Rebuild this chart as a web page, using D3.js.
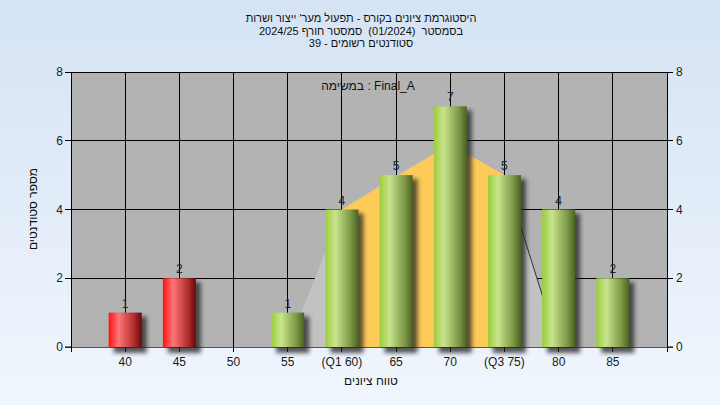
<!DOCTYPE html>
<html><head><meta charset="utf-8">
<script src="https://cdn.jsdelivr.net/npm/d3@7/dist/d3.min.js"></script>
<style>body{margin:0;padding:0;overflow:hidden}svg{display:block}text{white-space:pre}</style>
</head><body>
<script>
const categories = [40,45,50,55,60,65,70,75,80,85];
const tickLabels = ["40","45","50","55","(Q1 60)","65","70","(Q3 75)","80","85"];
const counts = [1,2,0,1,4,5,7,5,4,2];
const failing = [true,true,true,false,false,false,false,false,false,false];
const curveArea = [[55,0],[60,4],[65,5],[70,5.9],[75,5],[80,0]];
const iqrArea = [[60,0],[60,4],[70,5.9],[75,5],[75,0]];
const yTicks = [0,2,4,6,8];
const titleLines = ["היסטוגרמת ציונים בקורס - תפעול מער' ייצור ושרות","בסמסטר  (01/2024)  סמסטר חורף 2024/25","סטודנטים רשומים - 39"];
const taskLabel = "במשימה : Final_A";
const xTitle = "טווח ציונים";
const yTitle = "מספר סטודנטים";

const W=720,H=405;
const svg=d3.select("body").append("svg").attr("width",W).attr("height",H);
const defs=svg.append("defs");
const bg=defs.append("linearGradient").attr("id","bg").attr("x1",0).attr("y1",0).attr("x2",0).attr("y2",1);
bg.append("stop").attr("offset","0%").attr("stop-color","#d5e3f4");
bg.append("stop").attr("offset","100%").attr("stop-color","#f0f6fd");
function cyl(id,c0,c1,c2,c3){
  const g=defs.append("linearGradient").attr("id",id).attr("x1",0).attr("y1",0).attr("x2",1).attr("y2",0);
  g.append("stop").attr("offset","0%").attr("stop-color",c0);
  g.append("stop").attr("offset","30%").attr("stop-color",c1);
  g.append("stop").attr("offset","75%").attr("stop-color",c2);
  g.append("stop").attr("offset","100%").attr("stop-color",c3);
}
cyl("red","#ff1010","#ff7575","#b23030","#6a0808");
cyl("green","#9ccc3c","#c8e48c","#7f9a48","#4a6222");
const f=defs.append("filter").attr("id","sh").attr("x","-50%").attr("y","-50%").attr("width","200%").attr("height","200%");
f.append("feGaussianBlur").attr("stdDeviation",2.2);

svg.append("rect").attr("width",W).attr("height",H).attr("fill","url(#bg)");

const x=d3.scaleLinear().domain([35,90]).range([71,667]);
const y=d3.scaleLinear().domain([0,8]).range([347,72]);

svg.append("rect").attr("x",x(35)).attr("y",y(8)).attr("width",x(90)-x(35)).attr("height",y(0)-y(8)).attr("fill","#b3b3b3");

const gridX=[35].concat(categories).concat([90]);
svg.append("g").selectAll("line").data(gridX).join("line")
  .attr("x1",d=>x(d)).attr("x2",d=>x(d)).attr("y1",y(8)).attr("y2",y(0)+5)
  .attr("stroke","#000").attr("stroke-width",1).attr("shape-rendering","crispEdges");
svg.append("g").selectAll("line").data(yTicks.filter(d=>d>0)).join("line")
  .attr("x1",x(35)-6).attr("x2",x(90)+6).attr("y1",d=>y(d)).attr("y2",d=>y(d))
  .attr("stroke","#000").attr("stroke-width",1).attr("shape-rendering","crispEdges");

const line=d3.line().x(d=>x(d[0])).y(d=>y(d[1]));
svg.append("path").attr("d",line(curveArea)+"Z").attr("fill","#c2c2c2");
svg.append("path").attr("d",line(curveArea.slice(-2))).attr("fill","none").attr("stroke","#333").attr("stroke-width",1);
svg.append("path").attr("d",line(iqrArea)+"Z").attr("fill","#fecb58");

svg.append("line").attr("x1",x(35)-6).attr("x2",x(90)+6).attr("y1",y(0)).attr("y2",y(0)).attr("stroke","#555").attr("shape-rendering","crispEdges");
svg.append("g").selectAll("line").data(gridX).join("line")
  .attr("x1",d=>x(d)).attr("x2",d=>x(d)).attr("y1",y(0)).attr("y2",y(0)+5)
  .attr("stroke","#000").attr("shape-rendering","crispEdges");

const bw=33;
const bars=categories.map((c,i)=>({c,v:counts[i],red:failing[i]})).filter(d=>d.v>0);
svg.append("g").selectAll("rect").data(bars).join("rect")
  .attr("x",d=>x(d.c)-bw/2+5).attr("y",d=>y(d.v)+4).attr("width",bw).attr("height",d=>y(0)-y(d.v)+2)
  .attr("fill","#222").attr("opacity",0.75).attr("filter","url(#sh)");
svg.append("g").selectAll("rect").data(bars).join("rect")
  .attr("x",d=>x(d.c)-bw/2).attr("y",d=>y(d.v)).attr("width",bw).attr("height",d=>y(0)-y(d.v))
  .attr("fill",d=>d.red?"url(#red)":"url(#green)");
svg.append("g").selectAll("text").data(bars).join("text")
  .attr("x",d=>x(d.c)).attr("y",d=>y(d.v)-5).attr("text-anchor","middle")
  .attr("font-family","Liberation Sans, Arial, sans-serif").attr("font-size",12).attr("fill","#1b2230").text(d=>d.v);

const font="Liberation Sans, Arial, sans-serif";
svg.append("g").selectAll("text").data(categories).join("text")
  .attr("x",d=>x(d)).attr("y",366).attr("text-anchor","middle").attr("font-family",font).attr("font-size",12).attr("fill","#1a1a1a")
  .text((d,i)=>tickLabels[i]);
svg.append("g").selectAll("text").data(yTicks).join("text")
  .attr("x",63).attr("y",d=>y(d)+4).attr("text-anchor","end").attr("font-family",font).attr("font-size",12).attr("fill","#1a1a1a").text(d=>d);
svg.append("g").selectAll("text").data(yTicks).join("text")
  .attr("x",676).attr("y",d=>y(d)+4).attr("text-anchor","start").attr("font-family",font).attr("font-size",12).attr("fill","#1a1a1a").text(d=>d);
svg.append("line").attr("x1",x(35)-6).attr("x2",x(35)).attr("y1",y(0)).attr("y2",y(0)).attr("stroke","#000");
svg.append("line").attr("x1",x(90)).attr("x2",x(90)+6).attr("y1",y(0)).attr("y2",y(0)).attr("stroke","#000");

svg.append("g").selectAll("text").data(titleLines).join("text")
  .attr("x",361).attr("y",(d,i)=>22+i*12.5).attr("text-anchor","middle").attr("font-family",font).attr("font-size",11).attr("fill","#111").text(d=>d);
svg.append("text").attr("x",368).attr("y",90).attr("text-anchor","middle").attr("font-family",font).attr("font-size",12).attr("fill","#111").text(taskLabel);
svg.append("text").attr("x",371).attr("y",385).attr("text-anchor","middle").attr("font-family",font).attr("font-size",12).attr("fill","#111").text(xTitle);
svg.append("text").attr("transform","translate(37,209) rotate(-90)").attr("text-anchor","middle").attr("font-family",font).attr("font-size",12).attr("fill","#111").text(yTitle);
</script>
</body></html>
